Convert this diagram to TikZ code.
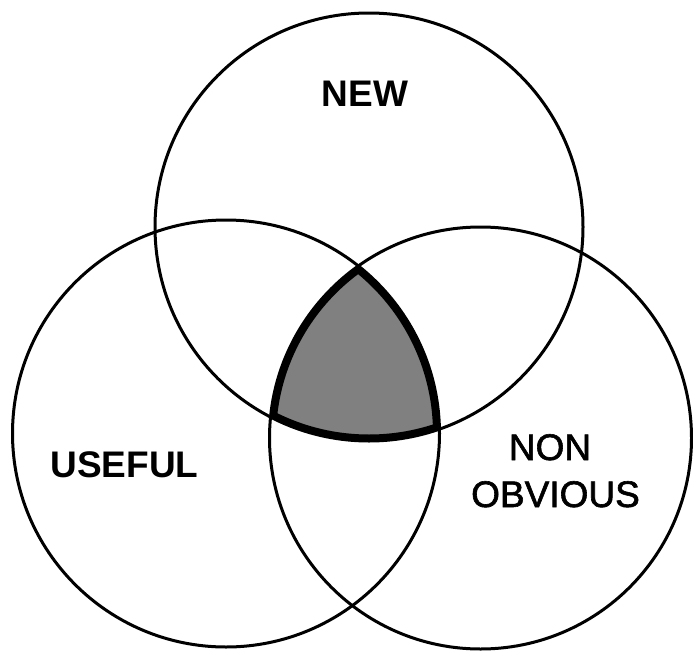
\documentclass[tikz,border=0pt]{standalone}
\usepackage{fontspec}
\setmainfont{Liberation Sans}
\newfontfamily\medfont[FakeBold=1.6]{Liberation Sans}
\begin{document}
\begin{tikzpicture}[x=1pt,y=-1pt,
  ring/.style={draw=black,line width=3pt},
  edge/.style={draw=black,line width=13pt},
  lbl/.style={inner sep=0pt,anchor=base,font=\fontsize{37}{44}\selectfont\medfont},
  lblb/.style={inner sep=0pt,anchor=base,font=\fontsize{37}{44}\selectfont\bfseries}]
\useasboundingbox (0,0) rectangle (693,653);
\coordinate (ctop) at (369,227);
\coordinate (cleft) at (226,433.5);
\coordinate (cright) at (480.5,438);
% shaded common region
\begin{scope}
  \clip (ctop) circle (214);
  \clip (cleft) circle (213.5);
  \clip (cright) circle (211);
  \fill[black!50] (cright) circle (211);
  \draw[edge] (ctop) circle (214);
  \draw[edge] (cleft) circle (213.5);
  \draw[edge] (cright) circle (211);
\end{scope}
\draw[ring] (ctop) circle (214);
\draw[ring] (cleft) circle (213.5);
\draw[ring] (cright) circle (211);
\node[lblb] (new) at (365,106) {NEW};
\node[lblb] (useful) at (124.5,477) {USEFUL};
\node[lbl] (non) at (550,460) {NON};
\node[lbl] (obvious) at (555.5,507) {OBVIOUS};
\end{tikzpicture}
\end{document}
